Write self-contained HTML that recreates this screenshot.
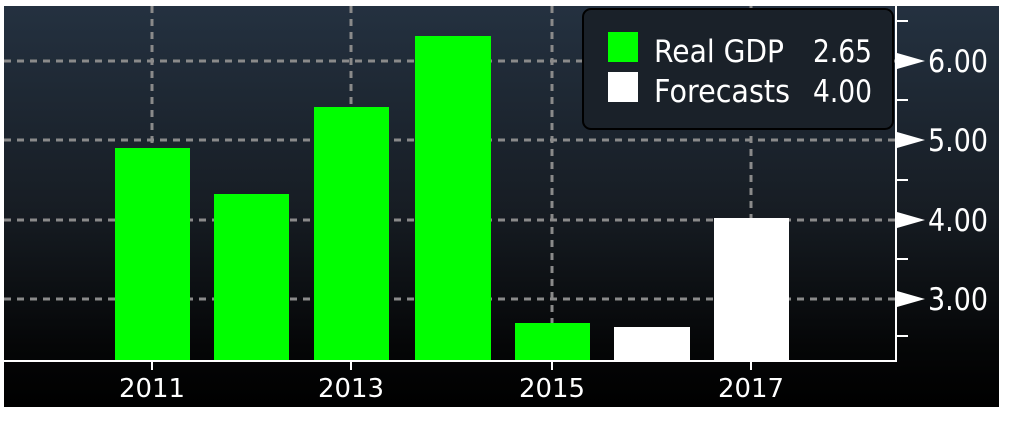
<!DOCTYPE html><html><head><style>
body{margin:0;background:#fff;width:1024px;height:421px;overflow:hidden}
</style></head><body>
<svg width="1024" height="421" xmlns="http://www.w3.org/2000/svg" font-family="DejaVu Sans, Liberation Sans, sans-serif">
<defs><linearGradient id="g" x1="0" y1="0" x2="0" y2="1">
<stop offset="0" stop-color="#243140"/><stop offset="0.5" stop-color="#171d24"/><stop offset="0.85" stop-color="#050607"/><stop offset="1" stop-color="#000"/></linearGradient></defs>
<rect x="4" y="6" width="995" height="401" fill="url(#g)"/>
<g stroke="#8a8a8a" stroke-width="3" stroke-dasharray="7,6">
<line x1="4" y1="61" x2="895" y2="61"/><line x1="4" y1="140" x2="895" y2="140"/>
<line x1="4" y1="220" x2="895" y2="220"/><line x1="4" y1="299" x2="895" y2="299"/>
<line x1="152" y1="6" x2="152" y2="361"/><line x1="351" y1="6" x2="351" y2="361"/>
<line x1="552" y1="6" x2="552" y2="361"/><line x1="751" y1="6" x2="751" y2="361"/>
</g>
<g fill="#00ff00"><rect x="115" y="148" width="75" height="213"/><rect x="214" y="194" width="75" height="167"/>
<rect x="314" y="107" width="75" height="254"/><rect x="415" y="36" width="76" height="325"/>
<rect x="515" y="323" width="75" height="38"/></g>
<g fill="#fff"><rect x="614" y="327" width="76" height="34"/><rect x="714" y="218" width="75" height="143"/></g>
<rect x="583" y="9" width="310" height="120" rx="8" fill="#1a2129" stroke="#000" stroke-width="2"/>
<rect x="608" y="32" width="30" height="30" fill="#00ff00"/><rect x="608" y="72" width="30" height="30" fill="#fff"/>
<g fill="#fff" font-size="31" lengthAdjust="spacingAndGlyphs">
<text x="654" y="62" textLength="130" lengthAdjust="spacingAndGlyphs">Real GDP</text>
<text x="654" y="102" textLength="136" lengthAdjust="spacingAndGlyphs">Forecasts</text>
<text x="813" y="62" textLength="59" lengthAdjust="spacingAndGlyphs">2.65</text>
<text x="813" y="102" textLength="59" lengthAdjust="spacingAndGlyphs">4.00</text></g>
<g stroke="#fff" stroke-width="2"><line x1="4" y1="361" x2="897" y2="361"/><line x1="896" y1="6" x2="896" y2="362"/>
<line x1="896" y1="21" x2="908" y2="21"/><line x1="896" y1="100" x2="908" y2="100"/><line x1="896" y1="180" x2="908" y2="180"/>
<line x1="896" y1="259" x2="908" y2="259"/><line x1="896" y1="336" x2="908" y2="336"/>
<line x1="152" y1="361" x2="152" y2="370"/><line x1="351" y1="361" x2="351" y2="370"/><line x1="552" y1="361" x2="552" y2="370"/><line x1="751" y1="361" x2="751" y2="370"/></g>
<g fill="#fff"><polygon points="897,53 925,61 897,69"/><polygon points="897,132 925,140 897,148"/><polygon points="897,212 925,220 897,228"/><polygon points="897,291 925,299 897,307"/></g>
<g fill="#fff" font-size="31">
<text x="928" y="72" textLength="60" lengthAdjust="spacingAndGlyphs">6.00</text>
<text x="928" y="151" textLength="60" lengthAdjust="spacingAndGlyphs">5.00</text>
<text x="928" y="231" textLength="60" lengthAdjust="spacingAndGlyphs">4.00</text>
<text x="928" y="310" textLength="60" lengthAdjust="spacingAndGlyphs">3.00</text></g>
<g fill="#fff" font-size="26">
<text x="119" y="397" textLength="66" lengthAdjust="spacingAndGlyphs">2011</text>
<text x="318" y="397" textLength="66" lengthAdjust="spacingAndGlyphs">2013</text>
<text x="519" y="397" textLength="66" lengthAdjust="spacingAndGlyphs">2015</text>
<text x="718" y="397" textLength="66" lengthAdjust="spacingAndGlyphs">2017</text></g>
</svg></body></html>
